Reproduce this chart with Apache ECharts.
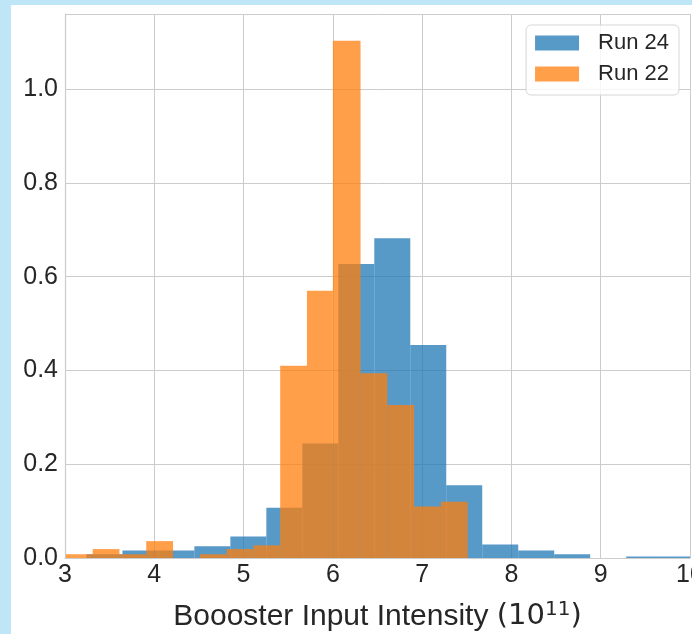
<!DOCTYPE html>
<html>
<head>
<meta charset="utf-8">
<script src="https://cdn.jsdelivr.net/npm/echarts@6/dist/echarts.min.js"></script>
<style>
	html, body { margin: 0; padding: 0; background: #bee6f6; overflow: hidden; }
	#chart { position: absolute; left: 11px; top: 5px; width: 681px; height: 629px; background: #fff; }
</style>
</head>
<body>
<div id="chart"></div>
<script>
// histogram bin edges and heights (density)
var run24Edges = [3.240, 3.643, 4.046, 4.449, 4.852, 5.255, 5.658, 6.061, 6.464, 6.867, 7.270, 7.673, 8.076, 8.479, 8.882, 9.285, 9.688, 10.091];
var run24Values = [0.008, 0.016, 0.016, 0.025, 0.046, 0.107, 0.244, 0.627, 0.682, 0.454, 0.155, 0.029, 0.016, 0.008, 0, 0.003, 0.003];

var run22Edges = [3.01, 3.31, 3.61, 3.91, 4.21, 4.51, 4.81, 5.11, 5.41, 5.71, 6.00, 6.31, 6.61, 6.91, 7.21, 7.51];
var run22Values = [0.008, 0.019, 0.008, 0.036, 0, 0.008, 0.019, 0.027, 0.410, 0.570, 1.103, 0.394, 0.326, 0.110, 0.120];

var seriesNames = ['Run 24', 'Run 22'];
var yTicks = [0, 0.2, 0.4, 0.6, 0.8, 1.0];

function toBins(edges, values) {
	var out = [];
	for (var i = 0; i < values.length; i++) {
		out.push([edges[i], edges[i + 1], values[i]]);
	}
	return out;
}

function renderBar(params, api) {
	var top = api.coord([api.value(0), api.value(2)]);
	var bottom = api.coord([api.value(1), 0]);
	return {
		type: 'rect',
		shape: { x: top[0], y: top[1], width: bottom[0] - top[0], height: bottom[1] - top[1] },
		style: api.style()
	};
}

var chart = echarts.init(document.getElementById('chart'));
var textColor = '#262626';
var gridColor = '#cccccc';
var font = 'Liberation Sans, Arial, sans-serif';

var option = {
	animation: false,
	textStyle: { fontFamily: font },
	grid: { left: 54, top: 9, width: 625, height: 544, containLabel: false, outerBoundsMode: 'none' },
	legend: {
		data: seriesNames,
		right: 13,
		top: 20,
		orient: 'vertical',
		icon: 'rect',
		itemWidth: 44,
		itemHeight: 15,
		itemGap: 9,
		padding: [7, 10, 10, 9],
		backgroundColor: 'rgba(255,255,255,0.8)',
		borderColor: '#d6d6d6',
		borderWidth: 1,
		borderRadius: 5,
		textStyle: { color: textColor, fontSize: 22, padding: [0, 0, 0, 14], fontFamily: font }
	},
	xAxis: {
		type: 'value',
		min: 3,
		max: 10,
		interval: 1,
		name: 'Boooster Input Intensity {m|(10}{sup|11}{m|)}',
		nameLocation: 'middle',
		nameGap: 42,
		nameTextStyle: {
			color: textColor,
			fontSize: 30,
			fontFamily: font,
			rich: {
				m: { fontSize: 29, color: textColor, fontFamily: 'DejaVu Sans' },
				sup: { fontSize: 20, color: textColor, fontFamily: 'DejaVu Sans', verticalAlign: 'top', padding: [0, 0, 13, 0] }
			}
		},
		axisLine: { show: true, lineStyle: { color: gridColor, width: 1.2 } },
		axisTick: { show: false },
		axisLabel: { color: textColor, fontSize: 25, margin: 5, showMaxLabel: true },
		splitLine: { show: true, lineStyle: { color: gridColor, width: 1 } }
	},
	yAxis: {
		type: 'value',
		min: 0,
		max: 1.16,
		interval: 0.2,
		axisLine: { show: true, lineStyle: { color: gridColor, width: 1.2 } },
		axisTick: { show: false },
		axisLabel: {
			color: textColor,
			fontSize: 25,
			margin: 7,
			showMaxLabel: false,
			formatter: function (v) {
				for (var i = 0; i < yTicks.length; i++) {
					if (Math.abs(v - yTicks[i]) < 1e-6) return yTicks[i].toFixed(1);
				}
				return '';
			}
		},
		splitLine: { show: true, lineStyle: { color: gridColor, width: 1 } }
	},
	series: [
		{
			name: seriesNames[0],
			type: 'custom',
			renderItem: renderBar,
			clip: true,
			encode: { x: [0, 1], y: 2 },
			itemStyle: { color: 'rgba(31,119,180,0.75)' },
			data: toBins(run24Edges, run24Values)
		},
		{
			name: seriesNames[1],
			type: 'custom',
			renderItem: renderBar,
			clip: true,
			encode: { x: [0, 1], y: 2 },
			itemStyle: { color: 'rgba(255,127,14,0.75)' },
			data: toBins(run22Edges, run22Values)
		}
	]
};

chart.setOption(option);
</script>
</body>
</html>
